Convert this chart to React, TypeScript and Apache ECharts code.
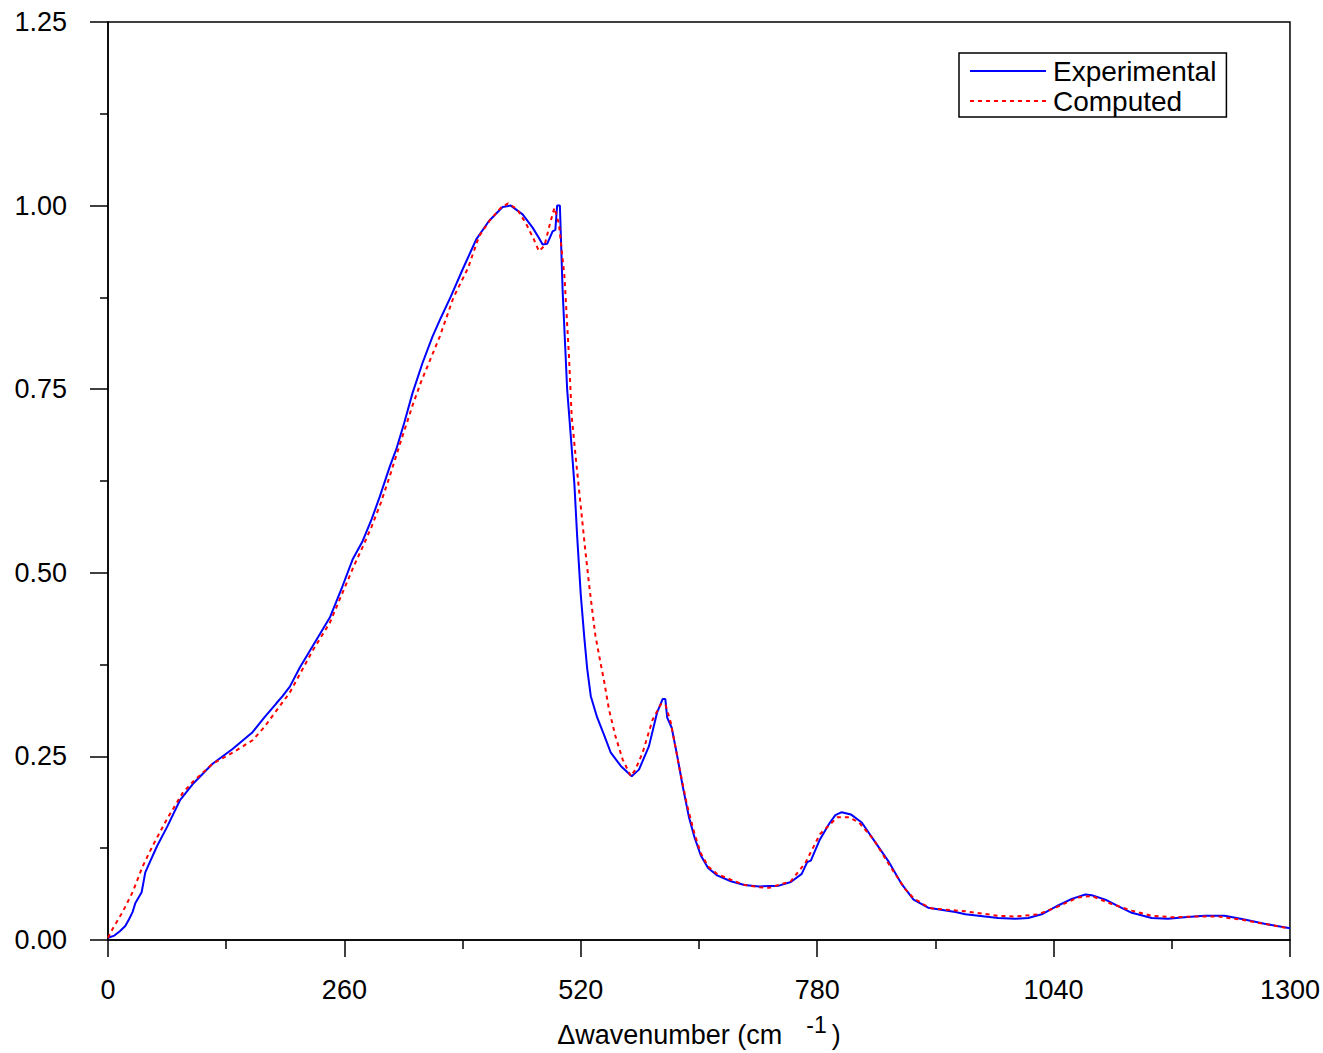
import React, { useEffect, useRef } from "react";
import * as echarts from "echarts";

const xTicks = [0, 260, 520, 780, 1040, 1300];
const yTicks = [0, 0.25, 0.5, 0.75, 1.0, 1.25];

const experimental: number[][] = [
  [0, 0.003], [7, 0.006], [13, 0.012], [19, 0.019], [23, 0.028], [27, 0.038], [30, 0.05], [37, 0.065],
  [41, 0.092], [46, 0.106], [54, 0.128], [65, 0.154], [79, 0.19], [93, 0.212], [115, 0.24], [137, 0.26],
  [159, 0.283], [172, 0.303], [185, 0.322], [192, 0.332], [200, 0.345], [211, 0.371], [225, 0.4],
  [244, 0.439], [258, 0.482], [269, 0.518], [280, 0.543], [290, 0.573], [299, 0.604], [310, 0.645],
  [317, 0.668], [326, 0.705], [335, 0.745], [346, 0.786], [357, 0.822], [366, 0.847], [377, 0.876],
  [390, 0.913], [405, 0.954], [419, 0.979], [434, 0.998], [443, 1.0], [456, 0.988], [467, 0.97],
  [474, 0.956], [478, 0.947], [483, 0.948], [489, 0.965], [492, 0.967], [494, 1.0], [497, 1.0],
  [500, 0.885], [505, 0.75], [510, 0.67], [513, 0.62], [516, 0.55], [520, 0.47], [524, 0.41],
  [527, 0.37], [531, 0.332], [538, 0.303], [546, 0.278], [553, 0.255], [564, 0.237], [576, 0.223],
  [584, 0.232], [595, 0.264], [604, 0.31], [610, 0.328], [613, 0.328], [615, 0.303], [620, 0.289],
  [626, 0.251], [632, 0.21], [639, 0.167], [645, 0.14], [652, 0.115], [660, 0.098], [670, 0.088],
  [685, 0.08], [700, 0.075], [716, 0.073], [738, 0.074], [751, 0.079], [763, 0.09], [769, 0.106],
  [773, 0.108], [783, 0.137], [793, 0.158], [800, 0.17], [807, 0.174], [817, 0.171], [829, 0.16],
  [844, 0.133], [859, 0.106], [873, 0.076], [886, 0.055], [902, 0.044], [932, 0.038], [943, 0.035],
  [979, 0.03], [998, 0.029], [1012, 0.03], [1027, 0.035], [1045, 0.047], [1060, 0.056], [1075, 0.062],
  [1082, 0.061], [1097, 0.055], [1111, 0.046], [1126, 0.037], [1148, 0.03], [1166, 0.029],
  [1184, 0.031], [1206, 0.033], [1228, 0.033], [1250, 0.028], [1272, 0.022], [1300, 0.016],
];

const computed: number[][] = [
  [0, 0.003], [5, 0.015], [16, 0.038], [27, 0.065], [38, 0.1], [49, 0.128], [65, 0.165], [82, 0.2],
  [93, 0.215], [115, 0.24], [137, 0.255], [159, 0.272], [172, 0.29], [185, 0.312], [200, 0.337],
  [211, 0.362], [225, 0.394], [244, 0.432], [258, 0.473], [270, 0.508], [280, 0.535], [290, 0.563],
  [300, 0.595], [310, 0.632], [321, 0.675], [335, 0.728], [344, 0.759], [365, 0.822], [380, 0.875],
  [396, 0.915], [408, 0.958], [420, 0.98], [432, 0.997], [440, 1.003], [450, 0.995], [460, 0.975],
  [468, 0.955], [474, 0.938], [480, 0.945], [486, 0.975], [491, 0.997], [496, 0.975], [502, 0.904],
  [507, 0.795], [510, 0.713], [515, 0.65], [520, 0.59], [525, 0.53], [530, 0.475], [536, 0.415],
  [541, 0.382], [546, 0.35], [551, 0.314], [558, 0.278], [566, 0.246], [575, 0.223], [580, 0.232],
  [588, 0.255], [599, 0.3], [608, 0.321], [613, 0.321], [619, 0.296], [628, 0.237], [637, 0.183],
  [645, 0.145], [652, 0.118], [660, 0.1], [670, 0.09], [685, 0.082], [700, 0.075], [716, 0.072],
  [727, 0.071], [751, 0.08], [767, 0.105], [783, 0.144], [802, 0.167], [815, 0.167], [826, 0.16],
  [842, 0.137], [862, 0.097], [877, 0.069], [886, 0.057], [899, 0.047], [906, 0.043], [943, 0.039],
  [979, 0.033], [998, 0.032], [1023, 0.035], [1042, 0.044], [1067, 0.058], [1082, 0.06],
  [1104, 0.049], [1126, 0.04], [1148, 0.033], [1170, 0.031], [1199, 0.032], [1221, 0.032],
  [1250, 0.027], [1298, 0.016],
];

const FONT = "'Liberation Sans', Arial, sans-serif";

export default function App() {
  const ref = useRef<HTMLDivElement>(null);
  useEffect(() => {
    if (!ref.current) return;
    const chart = echarts.init(ref.current, undefined, { renderer: "svg" });
    chart.setOption({
      animation: false,
      backgroundColor: "#ffffff",
      grid: {
        left: 108,
        top: 22,
        width: 1184,
        height: 919,
        show: true,
        borderColor: "#000",
        borderWidth: 1.5,
      },
      legend: {
        orient: "vertical",
        left: 959,
        top: 53,
        padding: [4, 10, 2, 10],
        itemGap: 2,
        itemWidth: 76,
        itemHeight: 14,
        borderColor: "#000",
        borderWidth: 1.5,
        borderRadius: 0,
        itemStyle: { opacity: 0 },
        textStyle: { fontFamily: FONT, fontSize: 28, lineHeight: 28, color: "#000", padding: [0, 0, 0, 2] },
        data: ["Experimental", "Computed"],
      },
      xAxis: {
        type: "value",
        min: xTicks[0],
        max: xTicks[xTicks.length - 1],
        interval: 260,
        axisLine: { show: true, onZero: false, lineStyle: { color: "#000", width: 1.5 } },
        axisTick: { show: true, inside: false, length: 17, lineStyle: { color: "#000", width: 1.5 } },
        minorTick: { show: true, splitNumber: 2, length: 9, lineStyle: { color: "#000", width: 1.5 } },
        splitLine: { show: false },
        axisLabel: {
          fontFamily: FONT,
          fontSize: 27,
          color: "#000",
          margin: 36,
          formatter: (v: number) => String(v),
        },
        name: "{a|Δwavenumber (cm}{s|-1}{a|)}",
        nameLocation: "middle",
        nameGap: 76,
        nameTextStyle: {
          fontFamily: FONT,
          color: "#000",
          rich: {
            a: { fontFamily: FONT, fontSize: 27, color: "#000", verticalAlign: "bottom", lineHeight: 32 },
            s: {
              fontFamily: FONT,
              fontSize: 23,
              color: "#000",
              verticalAlign: "bottom",
              lineHeight: 32,
              padding: [0, 5, 12, 24],
            },
          },
        },
      },
      yAxis: {
        type: "value",
        min: yTicks[0],
        max: yTicks[yTicks.length - 1],
        interval: 0.25,
        axisLine: { show: true, onZero: false, lineStyle: { color: "#000", width: 1.5 } },
        axisTick: { show: true, inside: false, length: 18, lineStyle: { color: "#000", width: 1.5 } },
        minorTick: { show: true, splitNumber: 2, length: 8, lineStyle: { color: "#000", width: 1.5 } },
        splitLine: { show: false },
        axisLabel: {
          fontFamily: FONT,
          fontSize: 27,
          color: "#000",
          margin: 41,
          formatter: (v: number) => v.toFixed(2),
        },
      },
      series: [
        {
          name: "Experimental",
          type: "line",
          data: experimental,
          symbol: "none",
          smooth: false,
          lineStyle: { color: "#0000ff", width: 2 },
          itemStyle: { color: "#0000ff" },
        },
        {
          name: "Computed",
          type: "line",
          data: computed,
          symbol: "none",
          smooth: false,
          lineStyle: { color: "#ff0000", width: 2, type: [4, 4] },
          itemStyle: { color: "#ff0000" },
        },
      ],
    });
    return () => chart.dispose();
  }, []);
  return (
    <div
      ref={ref}
      style={{ position: "fixed", left: 0, top: 0, width: 1323, height: 1053, background: "#fff" }}
    />
  );
}
